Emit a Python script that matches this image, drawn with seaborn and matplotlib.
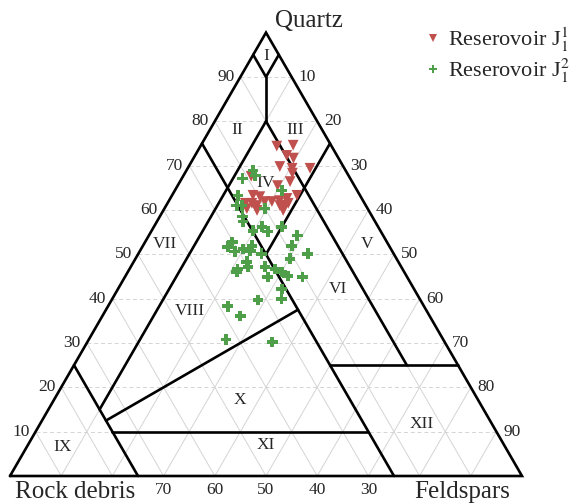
import matplotlib
matplotlib.use("Agg")
import matplotlib.pyplot as plt
import seaborn as sns
import numpy as np
import pandas as pd

# Ternary data, percentages (Q = quartz, F = feldspars, R = rock debris = 100 - Q - F)
j11_q = [74.4, 74.6, 72.3, 71.7, 69.8, 69.4, 69.4, 68.3, 66.4, 65.5, 63.3, 63.3, 63.0,
         61.5, 61.5, 60.3, 61.0, 59.9, 61.9, 61.9, 62.1, 62.6, 61.0, 61.0, 59.9, 61.5, 67.6]
j11_f = [14.9, 18.0, 17.9, 19.5, 17.8, 20.4, 23.9, 21.0, 21.5, 19.5, 24.4, 15.8, 17.3,
         16.5, 15.2, 16.1, 17.7, 18.3, 18.8, 20.2, 21.6, 22.8, 22.2, 23.2, 23.4, 23.6, 13.3]

j12_q = [68.9, 67.8, 67.1, 64.4, 63.3, 61.0, 61.0, 60.3, 58.5, 57.4, 55.3, 56.2, 55.1, 56.2,
         54.2, 52.8, 51.7, 50.6, 51.2, 51.9, 50.8, 50.1, 51.9, 50.1, 49.0, 46.7, 46.0, 48.3,
         47.2, 47.2, 46.7, 46.0, 44.9, 45.1, 44.9, 42.2, 39.9, 39.7, 38.3, 36.1, 30.8, 30.2]
j12_f = [13.0, 14.0, 11.9, 20.9, 12.9, 13.8, 14.8, 19.6, 16.2, 16.8, 19.8, 21.1, 22.8, 25.0,
         29.0, 17.0, 16.7, 18.6, 19.9, 21.3, 21.5, 24.1, 29.1, 33.1, 30.2, 21.1, 21.3, 22.1,
         22.9, 26.2, 28.4, 30.1, 27.9, 31.7, 34.7, 32.0, 33.1, 28.6, 23.4, 26.9, 26.8, 36.1]

series_names = [r"Reserovoir J$_1^1$", r"Reserovoir J$_1^2$"]

# classification field boundaries, (Q, F) end points
field_lines = [
    [(95, 0), (90, 5), (95, 5)],
    [(90, 5), (80, 10)],
    [(80, 10), (15, 10)],
    [(80, 10), (25, 65)],
    [(75, 0), (0, 75)],
    [(75, 25), (50, 25)],
    [(37.5, 37.5), (12.5, 12.5)],
    [(25, 0), (0, 25)],
    [(10, 15), (10, 65)],
    [(25, 50), (25, 75)],
]
field_names = ["I", "II", "III", "IV", "V", "VI", "VII", "VIII", "IX", "X", "XI", "XII"]
field_pos = [(94.8, 2.6), (78, 5.3), (78, 16.7), (66, 17), (52.4, 43.5), (42.2, 43),
             (52.4, 4.1), (37.2, 16.6), (6.5, 7), (17.2, 36.3), (7, 46.5), (11.8, 74.6)]

ticks = [10, 20, 30, 40, 50, 60, 70, 80, 90]
bottom_ticks = [70, 60, 50, 40, 30]

H = np.sqrt(3) / 2


def tern(q, f):
    q = np.asarray(q, dtype=float) / 100
    f = np.asarray(f, dtype=float) / 100
    return f + q / 2, q * H


sns.set_style("white")
plt.rcParams['font.family'] = ['Liberation Serif', 'DejaVu Serif']
plt.rcParams['mathtext.fontset'] = 'stix'

fig = plt.figure(figsize=(5.82, 5.03), dpi=100)
ax = fig.add_axes([0, 0, 1, 1])
ax.set_xlim(-10 / 512, 572 / 512)
ax.set_ylim(-27 / 512, 476 / 512)
ax.set_aspect('equal')
ax.axis('off')

# grid
gc = '#d4d4d4'
for k in ticks:
    x0, y0 = tern(k, 0)
    x1, y1 = tern(k, 100 - k)
    ax.plot([x0, x1], [y0, y1], color=gc, lw=0.7, ls=(0, (4, 3)), zorder=1)
    # constant F
    xa, ya = tern(0, k)
    xb, yb = tern(100 - k, k)
    ax.plot([xa, xb], [ya, yb], color=gc, lw=0.7, zorder=1)
    # constant R
    xa, ya = tern(0, 100 - k)
    xb, yb = tern(100 - k, 0)
    ax.plot([xa, xb], [ya, yb], color=gc, lw=0.7, zorder=1)

# outer triangle
ox, oy = tern([0, 0, 100, 0], [0, 100, 0, 0])
ax.plot(ox, oy, color='black', lw=1.9, zorder=3, solid_joinstyle='miter')

for seg in field_lines:
    qs, fs = zip(*seg)
    sx, sy = tern(qs, fs)
    ax.plot(sx, sy, color='black', lw=1.9, zorder=3)

for name, (q, f) in zip(field_names, field_pos):
    tx, ty = tern(q, f)
    ax.text(tx, ty, name, ha='center', va='center', fontsize=12.5, zorder=4)

# tick labels
for k in ticks:
    lx, ly = tern(k, 0)
    ax.annotate(str(k), (lx, ly), xytext=(-6, 0), textcoords='offset pixels',
                ha='right', va='center', fontsize=12.5)
    rx, ry = tern(100 - k, k)
    ax.annotate(str(k), (rx, ry), xytext=(7, 0), textcoords='offset pixels',
                ha='left', va='center', fontsize=12.5)
for k in bottom_ticks:
    bx, by = tern(0, 100 - k)
    ax.annotate(str(k), (bx, by), xytext=(0, -14), textcoords='offset pixels',
                ha='center', va='center', fontsize=12.5)

ax.annotate("Quartz", tern(100, 0), xytext=(43, 12), textcoords='offset pixels',
            ha='center', va='center', fontsize=18)
ax.annotate("Rock debris", tern(0, 0), xytext=(65, -16), textcoords='offset pixels',
            ha='center', va='center', fontsize=18)
ax.annotate("Feldspars", tern(0, 100), xytext=(-60, -16), textcoords='offset pixels',
            ha='center', va='center', fontsize=18)

# points
x1, y1 = tern(j11_q, j11_f)
x2, y2 = tern(j12_q, j12_f)
df = pd.DataFrame({
    'x': np.concatenate([x1, x2]),
    'y': np.concatenate([y1, y2]),
    'group': [series_names[0]] * len(x1) + [series_names[1]] * len(x2),
})
sns.scatterplot(data=df, x='x', y='y', hue='group', style='group',
                markers={series_names[0]: 'v', series_names[1]: 'P'},
                palette={series_names[0]: '#c0504d', series_names[1]: '#4f9e4a'},
                s=60, linewidth=0, ax=ax, zorder=5)

leg = ax.legend(loc='upper left', bbox_to_anchor=(0.725, 0.95), frameon=False,
                fontsize=16, handlelength=1.0, handletextpad=0.15, labelspacing=0.12,
                markerscale=0.8, borderaxespad=0, borderpad=0)

plt.savefig('out.png', dpi=100)
